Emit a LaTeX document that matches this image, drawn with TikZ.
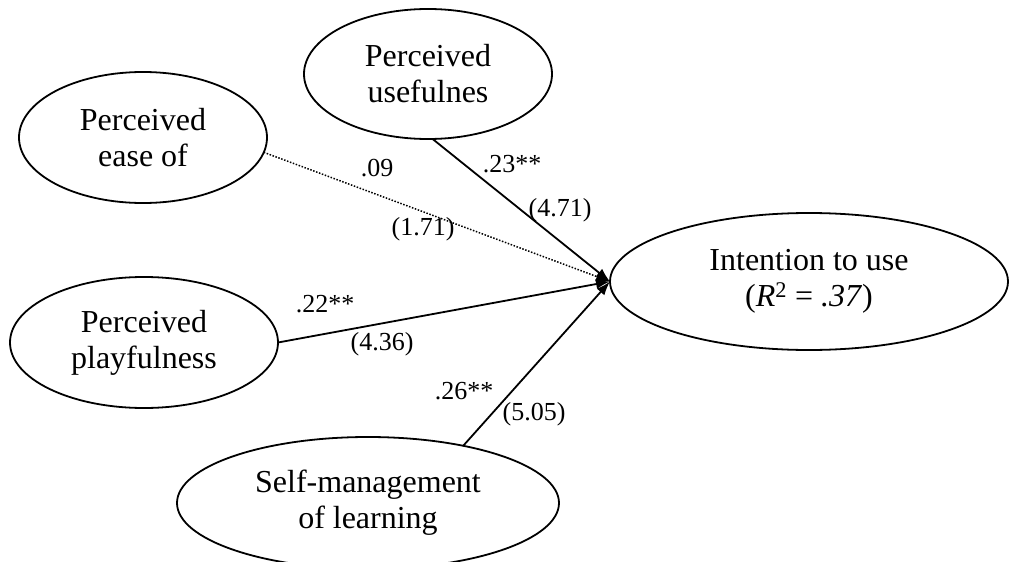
\documentclass[tikz,border=0pt]{standalone}
\usepackage{fontspec}
\setmainfont{Liberation Serif}
\usetikzlibrary{shapes.geometric,arrows.meta}
\begin{document}
\begin{tikzpicture}[x=1pt,y=-1pt,
  latent/.style={draw, ellipse, line width=1.8pt, inner sep=0pt, outer sep=0pt, align=center, font=\fontsize{32}{36}\selectfont},
  effect/.style={line width=1.8pt, -{Latex[length=14pt,width=10pt]}},
  weak/.style={effect, line width=1.5pt, dash pattern=on 1.5pt off 1.6pt},
  coef/.style={inner sep=0pt, font=\fontsize{26}{30}\selectfont}]
\useasboundingbox (0,0) rectangle (1010,562);

\node[latent, minimum width=248pt, minimum height=130pt] (use) at (428,74) {Perceived\\usefulnes};
\node[latent, minimum width=248pt, minimum height=131pt] (ease) at (143,137.5) {Perceived\\ease of};
\node[latent, minimum width=268pt, minimum height=131pt] (play) at (144,342.5) {Perceived\\playfulness};
\node[latent, minimum width=382pt, minimum height=132pt] (self) at (368,503) {Self-management\\of learning};
\node[latent, minimum width=398pt, minimum height=137pt] (intent) at (809,281.5) {Intention to use\\(\textit{R}\textsuperscript{2} = \textit{.37})};

\draw[effect] (use.-86) -- (intent.west);
\draw[weak] (ease.-7) -- (intent.west);
\draw[effect] (play.0) -- (intent.west);
\draw[effect] (self.31) -- (intent.west);

\node[coef] (c1) at (512,164) {.23**};
\node[coef] (c2) at (560,210) {(4.71)};
\node[coef] (c3) at (377,168) {.09};
\node[coef] (c4) at (423,229) {(1.71)};
\node[coef] (c5) at (325,304) {.22**};
\node[coef] (c6) at (382,344) {(4.36)};
\node[coef] (c7) at (464,391) {.26**};
\node[coef] (c8) at (534,414) {(5.05)};
\end{tikzpicture}
\end{document}
